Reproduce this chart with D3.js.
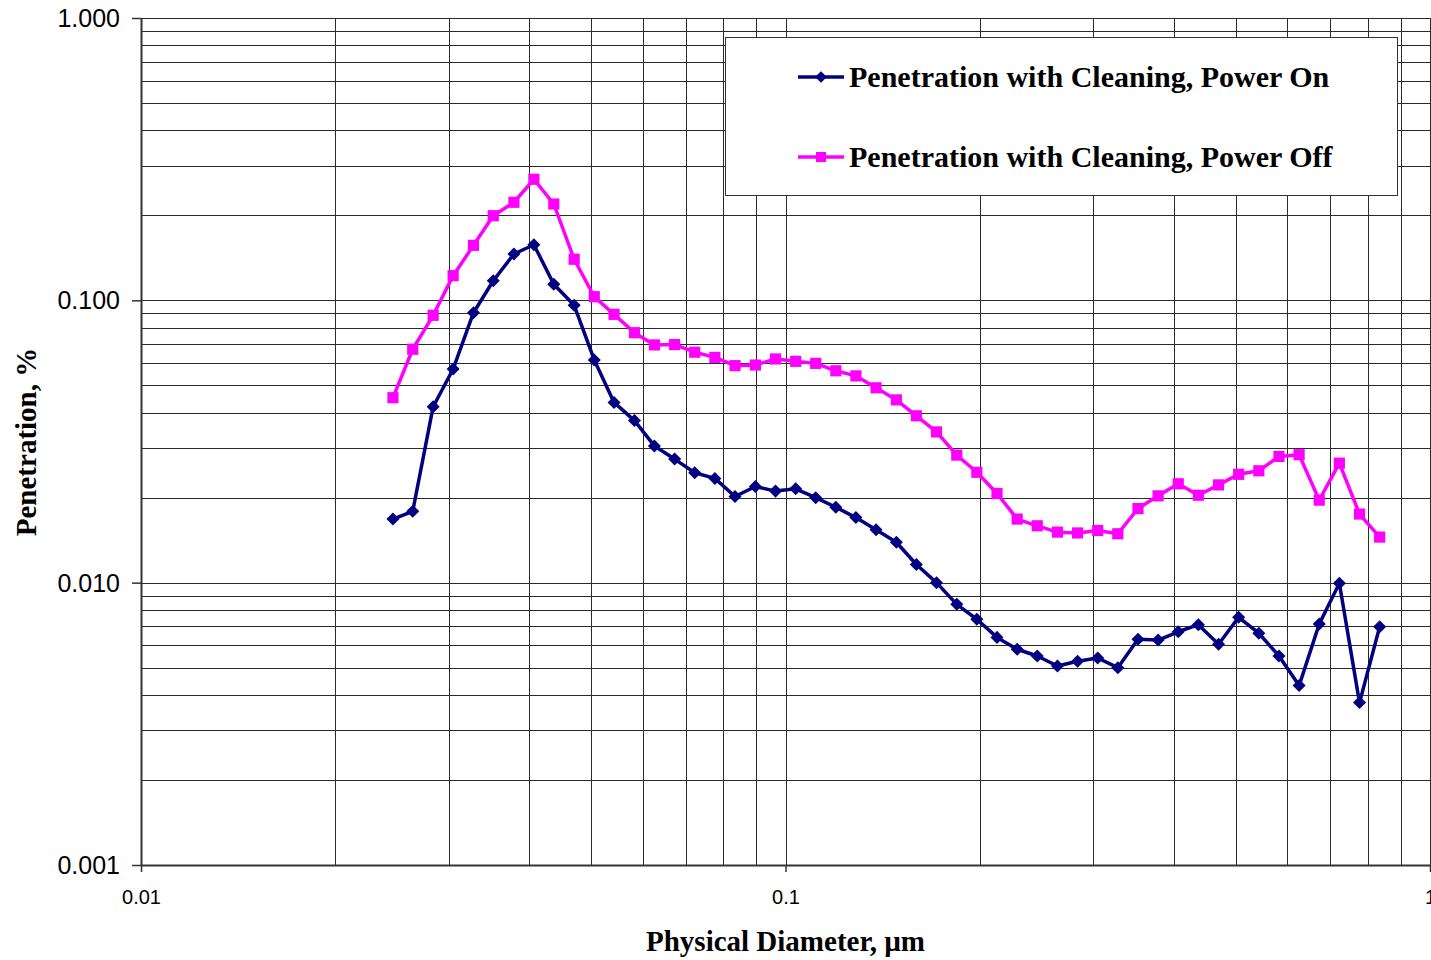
<!DOCTYPE html>
<html>
<head>
<meta charset="utf-8">
<script src="https://cdn.jsdelivr.net/npm/d3@7"></script>
<style>
  html, body { margin: 0; padding: 0; background: #fff; }
  svg { display: block; }
</style>
</head>
<body>
<svg id="chart" width="1431" height="960"></svg>
<script>
// Particle diameter, µm (SMPS channel midpoints)
const diameters = [
  0.0246, 0.0264, 0.0284, 0.0305, 0.0328, 0.0352, 0.0379, 0.0407, 0.0437, 0.0470,
  0.0505, 0.0542, 0.0583, 0.0626, 0.0673, 0.0723, 0.0777, 0.0835, 0.0898, 0.0965,
  0.1037, 0.1114, 0.1197, 0.1286, 0.1382, 0.1486, 0.1596, 0.1715, 0.1844, 0.1981,
  0.2129, 0.2288, 0.2458, 0.2642, 0.2839, 0.3051, 0.3278, 0.3523, 0.3786, 0.4068,
  0.4371, 0.4698, 0.5048, 0.5425, 0.5830, 0.6265, 0.6732, 0.7234, 0.7774, 0.8354
];

// Penetration with cleaning, power on
const penetrationOn = [
  0.0168, 0.0179, 0.0420, 0.0571, 0.0904, 0.1173, 0.1459, 0.1574, 0.1140, 0.0960,
  0.0615, 0.0435, 0.0375, 0.0305, 0.0274, 0.0245, 0.0234, 0.0202, 0.0219, 0.0211,
  0.0215, 0.0200, 0.0185, 0.0170, 0.0154, 0.0139, 0.0116, 0.0100, 0.00838, 0.00742,
  0.00640, 0.00581, 0.00550, 0.00507, 0.00527, 0.00541, 0.00500, 0.00630, 0.00626, 0.00670,
  0.00710, 0.00605, 0.00754, 0.00662, 0.00550, 0.00432, 0.00714, 0.00995, 0.00376, 0.00698
];

// Penetration with cleaning, power off
const penetrationOff = [
  0.0452, 0.0671, 0.0885, 0.1223, 0.1566, 0.1994, 0.2225, 0.2684, 0.2194, 0.1398,
  0.1030, 0.0892, 0.0768, 0.0695, 0.0697, 0.0655, 0.0628, 0.0587, 0.0590, 0.0620,
  0.0608, 0.0598, 0.0563, 0.0540, 0.0490, 0.0444, 0.0390, 0.0342, 0.0283, 0.0246,
  0.0207, 0.0168, 0.0159, 0.0151, 0.0150, 0.0153, 0.0149, 0.0183, 0.0203, 0.0224,
  0.0204, 0.0222, 0.0242, 0.0249, 0.0280, 0.0284, 0.0196, 0.0265, 0.0175, 0.0145
];

const seriesNames = [
  "Penetration with Cleaning, Power On",
  "Penetration with Cleaning, Power Off"
];
const xTickValues = [0.01, 0.1, 1];
const xTickLabels = ["0.01", "0.1", "1"];
const yTickValues = [0.001, 0.01, 0.1, 1];
const yTickLabels = ["0.001", "0.010", "0.100", "1.000"];

const svg = d3.select("#chart");
const plot = { left: 141, right: 1430, top: 18, bottom: 865 };

const x = d3.scaleLog().domain([0.01, 1]).range([plot.left, plot.right]);
const y = d3.scaleLog().domain([0.001, 1]).range([plot.bottom, plot.top]);

// Gridlines at every 1..9 multiple of each decade
const gridX = [], gridY = [];
for (let p = -2; p < 0; p++) for (let m = 1; m <= 9; m++) gridX.push(m * Math.pow(10, p));
gridX.push(1);
for (let p = -3; p < 0; p++) for (let m = 1; m <= 9; m++) gridY.push(m * Math.pow(10, p));
gridY.push(1);

const grid = svg.append("g").attr("shape-rendering", "crispEdges");
grid.selectAll("line.gx").data(gridX).join("line")
  .attr("x1", d => Math.round(x(d)) + 0.5).attr("x2", d => Math.round(x(d)) + 0.5)
  .attr("y1", plot.top).attr("y2", plot.bottom)
  .attr("stroke", "#2a2a2a").attr("stroke-width", 1);
grid.selectAll("line.gy").data(gridY).join("line")
  .attr("y1", d => Math.round(y(d)) + 0.5).attr("y2", d => Math.round(y(d)) + 0.5)
  .attr("x1", plot.left).attr("x2", plot.right)
  .attr("stroke", "#2a2a2a").attr("stroke-width", 1);

// Axes
const xAxis = d3.axisBottom(x).tickValues(xTickValues)
  .tickFormat((d, i) => xTickLabels[i]).tickSize(7).tickSizeOuter(0);
const yAxis = d3.axisLeft(y).tickValues(yTickValues)
  .tickFormat((d, i) => yTickLabels[i]).tickSize(9).tickSizeOuter(0);

const gx = svg.append("g").attr("transform", `translate(0,${plot.bottom})`).call(xAxis);
const gy = svg.append("g").attr("transform", `translate(${plot.left},0)`).call(yAxis);
[gx, gy].forEach(g => {
  g.select(".domain").attr("stroke", "#333").attr("stroke-width", 2);
  g.selectAll(".tick line").attr("stroke", "#333").attr("stroke-width", 1.5);
  g.selectAll(".tick text")
    .attr("font-family", "Liberation Sans, Arial, sans-serif")
    .attr("fill", "#000");
});
gx.selectAll(".tick text").attr("font-size", 20).attr("dy", "0.71em").attr("y", 25);
gy.selectAll(".tick text").attr("font-size", 25).attr("x", -21).attr("dy", "0.34em");

// Axis titles
svg.append("text")
  .attr("x", (plot.left + plot.right) / 2).attr("y", 951)
  .attr("text-anchor", "middle")
  .attr("font-family", "Liberation Serif, Times New Roman, serif")
  .attr("font-weight", "bold").attr("font-size", 29)
  .text("Physical Diameter, µm");
svg.append("text")
  .attr("transform", "translate(36,442) rotate(-90)")
  .attr("text-anchor", "middle")
  .attr("font-family", "Liberation Serif, Times New Roman, serif")
  .attr("font-weight", "bold").attr("font-size", 29)
  .text("Penetration, %");

// Series: diamonds for power on, squares for power off
const series = [
  { name: seriesNames[0], values: penetrationOn, color: "#000080", symbol: d3.symbolSquare, size: 85, rotate: 45 },
  { name: seriesNames[1], values: penetrationOff, color: "#FF00FF", symbol: d3.symbolSquare, size: 125, rotate: 0 }
];

const line = d3.line().x(d => x(d[0])).y(d => y(d[1]));

series.slice().reverse().forEach(s => {
  const pts = diameters.map((d, i) => [d, s.values[i]]);
  const g = svg.append("g");
  g.append("path").datum(pts).attr("d", line)
    .attr("fill", "none").attr("stroke", s.color).attr("stroke-width", 3.5)
    .attr("stroke-linejoin", "round");
  g.selectAll("path.m").data(pts).join("path")
    .attr("class", "m")
    .attr("transform", d => `translate(${x(d[0])},${y(d[1])}) rotate(${s.rotate})`)
    .attr("d", d3.symbol(s.symbol, s.size))
    .attr("fill", s.color);
});

// Legend
const legend = svg.append("g");
legend.append("rect")
  .attr("x", 725.5).attr("y", 37.5).attr("width", 672).attr("height", 158)
  .attr("fill", "#fff").attr("stroke", "#333").attr("stroke-width", 1);
series.forEach((s, i) => {
  const cy = 77 + i * 80;
  legend.append("line").attr("x1", 798).attr("x2", 844).attr("y1", cy).attr("y2", cy)
    .attr("stroke", s.color).attr("stroke-width", 3.5);
  legend.append("path")
    .attr("transform", `translate(821,${cy}) rotate(${s.rotate})`)
    .attr("d", d3.symbol(s.symbol, s.size * 0.8)).attr("fill", s.color);
  legend.append("text").attr("x", 849).attr("y", cy).attr("dy", "0.33em")
    .attr("font-family", "Liberation Serif, Times New Roman, serif")
    .attr("font-weight", "bold").attr("font-size", 30)
    .text(s.name);
});
</script>
</body>
</html>
